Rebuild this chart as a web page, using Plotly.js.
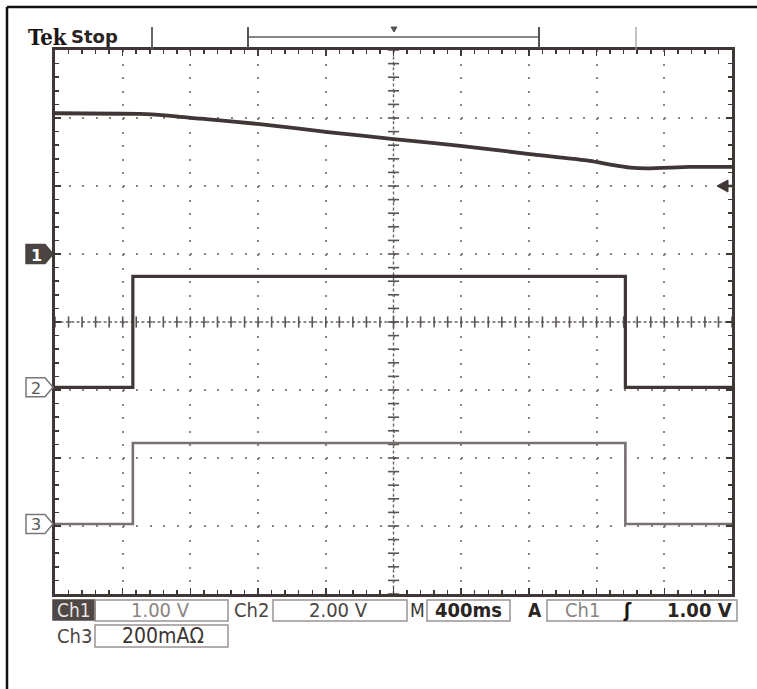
<!DOCTYPE html>
<html>
<head>
<meta charset="utf-8">
<script src="https://cdn.plot.ly/plotly-3.0.1.min.js"></script>
<style>html,body{margin:0;padding:0;background:#fff;}#chart{width:757px;height:689px;}</style>
</head>
<body>
<div id="chart"></div>
<script>
// ---- Data (time in ms, amplitude in screen divisions) ----
const ch1Time = [-2000, -1500, -1350, -1140, -790, -375, 0, 395, 805, 1160, 1290, 1400, 1500, 1750, 2000];
const ch1Div  = [3.07, 3.06, 3.04, 2.99, 2.91, 2.79, 2.69, 2.59, 2.47, 2.37, 2.31, 2.27, 2.26, 2.28, 2.28];

const pulseRise = -1540;   // ms
const pulseFall = 1370;    // ms
const ch2Low = -0.96, ch2High = 0.67;
const ch3Low = -2.97, ch3High = -1.78;

const ch1Ground = 1.0, ch2Ground = -0.96, ch3Ground = -2.97;
const trigLevel = 2.0;

const readout = {ch1:'1.00 V', ch2:'2.00 V', ch3:'200mA\u03A9', timebase:'400ms', trigSrc:'Ch1', trigVal:'1.00 V'};

// ---- helpers ----
const L = 55, R = 732, T = 50, B = 594, W = 757, H = 689;
const PX = x => (x - L) / (R - L);
const PY = y => (B - y) / (B - T);
const DIVPX = (B - T) / 8;

function stepTrace(lo, hi) {
  return { x: [-2000, pulseRise, pulseRise, pulseFall, pulseFall, 2000],
           y: [lo, lo, hi, hi, lo, lo] };
}
const s2 = stepTrace(ch2Low, ch2High);
const s3 = stepTrace(ch3Low, ch3High);

const dark = '#3e3735';
const traces = [];

// center crosshair tick marks
const cxTicks = [], cyTicks = [];
for (let i = -25; i <= 25; i++) cxTicks.push(i * 80);
for (let i = -20; i <= 20; i++) cyTicks.push(i * 0.2);
traces.push({x: cxTicks, y: cxTicks.map(() => 0), mode: 'markers', hoverinfo: 'skip',
  marker: {symbol: 'line-ns', size: 8, line: {width: 1.6, color: '#5a5452'}}, showlegend: false});
traces.push({x: cyTicks.map(() => 0), y: cyTicks, mode: 'markers', hoverinfo: 'skip',
  marker: {symbol: 'line-ew', size: 8, line: {width: 1.6, color: '#5a5452'}}, showlegend: false});

traces.push({x: ch1Time, y: ch1Div, mode: 'lines', line: {color: dark, width: 3.8, shape: 'spline', smoothing: 0.6}, showlegend: false, name: 'Ch1'});
traces.push({x: s2.x, y: s2.y, mode: 'lines', line: {color: dark, width: 3.2}, showlegend: false, name: 'Ch2'});
traces.push({x: s3.x, y: s3.y, mode: 'lines', line: {color: '#77716f', width: 2.6}, showlegend: false, name: 'Ch3'});

const shapes = [];
// outer frame (top and left)
shapes.push({type:'line', xref:'paper', yref:'paper', x0:PX(7), x1:PX(757), y0:PY(7), y1:PY(7), line:{color:'#111', width:2.5}});
shapes.push({type:'line', xref:'paper', yref:'paper', x0:PX(7), x1:PX(7), y0:PY(7), y1:PY(689), line:{color:'#111', width:2.5}});
// top decorations
shapes.push({type:'line', xref:'paper', yref:'paper', x0:PX(152), x1:PX(152), y0:PY(27), y1:PY(50), line:{color:'#5a5452', width:1.8}});
shapes.push({type:'line', xref:'paper', yref:'paper', x0:PX(636), x1:PX(636), y0:PY(27), y1:PY(50), line:{color:'#999', width:1.2}});
shapes.push({type:'line', xref:'paper', yref:'paper', x0:PX(248), x1:PX(538), y0:PY(37), y1:PY(37), line:{color:'#8a8482', width:2.2}});
shapes.push({type:'line', xref:'paper', yref:'paper', x0:PX(248), x1:PX(248), y0:PY(27), y1:PY(48), line:{color:'#555', width:2}});
shapes.push({type:'line', xref:'paper', yref:'paper', x0:PX(539), x1:PX(539), y0:PY(27), y1:PY(48), line:{color:'#555', width:2}});
shapes.push({type:'path', xref:'paper', yref:'paper',
  path:`M${PX(391)},${PY(27)} L${PX(397)},${PY(27)} L${PX(394)},${PY(32)} Z`, fillcolor:'#555', line:{color:'#555', width:1}});
// center crosshair lines
shapes.push({type:'line', xref:'paper', yref:'y', x0:0, x1:1, y0:0, y1:0, line:{color:'#6a6462', width:1.4, dash:'3px,2.4px'}, layer:'below'});
shapes.push({type:'line', xref:'x', yref:'paper', x0:0, x1:0, y0:0, y1:1, line:{color:'#6a6462', width:1.4, dash:'3px,2.4px'}, layer:'below'});

// channel markers
function marker(yDiv, filled) {
  const h = 9.5 / DIVPX;
  shapes.push({type:'path', xref:'paper', yref:'y',
    path:`M${PX(26)},${yDiv+h} L${PX(45)},${yDiv+h} L${PX(53)},${yDiv} L${PX(45)},${yDiv-h} L${PX(26)},${yDiv-h} Z`,
    fillcolor: filled ? '#4a4442' : '#ffffff', line:{color: filled ? '#4a4442' : '#777', width:1.5}});
}
marker(ch1Ground, true);
marker(ch2Ground, false);
marker(ch3Ground, false);
// trigger level arrow
const ah = 6 / DIVPX;
shapes.push({type:'path', xref:'paper', yref:'y',
  path:`M${PX(717)},${trigLevel} L${PX(728)},${trigLevel+ah} L${PX(728)},${trigLevel-ah} Z`, fillcolor:'#3e3735', line:{color:'#3e3735', width:1}});
shapes.push({type:'line', xref:'paper', yref:'y', x0:PX(726), x1:PX(732), y0:trigLevel, y1:trigLevel, line:{color:'#3e3735', width:2.5}});

// readout boxes
function box(x0, x1, y0, y1, fill) {
  shapes.push({type:'rect', xref:'paper', yref:'paper', x0:PX(x0), x1:PX(x1), y0:PY(y1), y1:PY(y0),
    fillcolor: fill || 'rgba(0,0,0,0)', line:{color: fill ? fill : '#9a9492', width:1.5}});
}
box(53, 95, 600, 620, '#4f4846');
box(95, 228, 600, 621);
box(273, 407, 600, 621);
box(427, 510, 600, 621);
box(547, 737, 600, 621);
box(95, 228, 625, 647);

const cond = 'DejaVu Sans Condensed, Liberation Sans Narrow, Roboto Condensed, sans-serif';
const annotations = [];
function txt(text, x, y, opts) {
  opts = opts || {};
  annotations.push({text, xref:'paper', yref:'paper', x:PX(x), y:PY(y), showarrow:false,
    xanchor: opts.xa || 'center', yanchor:'middle',
    font:{family: opts.family || cond, size: opts.size || 20, color: opts.color || '#3a3432'}});
}
txt('<b>Tek</b>', 26, 37, {xa:'left', family:'DejaVu Serif Condensed, DejaVu Serif, serif', size:22, color:'#1a1412'});
txt('<b>Stop</b>', 69, 37, {xa:'left', family:'DejaVu Sans, sans-serif', size:18, color:'#2a2422'});

txt('Ch1', 74, 610, {color:'#e8e4e2', size:19});
txt(readout.ch1, 160, 610, {color:'#8a8482', size:20});
txt('Ch2', 251, 610, {color:'#4a4442', size:20});
txt(readout.ch2, 338, 610, {color:'#4a4442', size:20});
txt('M', 417, 610, {color:'#3a3432', size:19});
txt('<b>' + readout.timebase + '</b>', 468, 610, {color:'#2a2422', size:20});
txt('<b>A</b>', 535, 610, {color:'#2a2422', size:19});
txt(readout.trigSrc, 582, 610, {color:'#8a8482', size:20});
txt('<b>\u0283</b>', 627, 610, {color:'#1a1412', size:19});
txt('<b>' + readout.trigVal + '</b>', 734, 610, {xa:'right', color:'#2a2422', size:20});
txt('Ch3', 74, 636, {color:'#4a4442', size:20});
txt(readout.ch3, 163, 636, {color:'#3a3432', size:21});

txt('<b>1</b>', 36, 255, {color:'#ffffff', size:16, family:'DejaVu Sans, sans-serif'});
txt('2', 36, 255 + (ch1Ground - ch2Ground) * DIVPX, {color:'#555', size:16, family:'DejaVu Sans, sans-serif'});
txt('3', 36, 255 + (ch1Ground - ch3Ground) * DIVPX, {color:'#555', size:16, family:'DejaVu Sans, sans-serif'});

const layout = {
  width: W, height: H,
  margin: {l: L, r: W - R, t: T, b: H - B, pad: 0},
  paper_bgcolor: '#ffffff', plot_bgcolor: '#ffffff',
  showlegend: false,
  xaxis: {range: [-2000, 2000], dtick: 400, tick0: -2000, showticklabels: false,
    showgrid: true, gridcolor: '#8a8482', gridwidth: 2, griddash: '2px,11.6px',
    zeroline: false, showline: true, linecolor: '#3e3735', linewidth: 3, mirror: 'ticks',
    ticks: 'inside', ticklen: 6, tickcolor: '#3e3735', tickwidth: 1.5,
    minor: {dtick: 80, tick0: -2000, ticks: 'inside', ticklen: 4, tickcolor: '#3e3735', tickwidth: 1.5, showgrid: false},
    fixedrange: true},
  yaxis: {range: [-4, 4], dtick: 1, tick0: -4, showticklabels: false,
    showgrid: true, gridcolor: '#8a8482', gridwidth: 2, griddash: '2px,11.54px',
    zeroline: false, showline: true, linecolor: '#3e3735', linewidth: 3, mirror: 'ticks',
    ticks: 'inside', ticklen: 6, tickcolor: '#3e3735', tickwidth: 1.5,
    minor: {dtick: 0.2, tick0: -4, ticks: 'inside', ticklen: 4, tickcolor: '#3e3735', tickwidth: 1.5, showgrid: false},
    fixedrange: true},
  shapes, annotations
};

Plotly.newPlot('chart', traces, layout, {staticPlot: true, displayModeBar: false});
</script>
</body>
</html>
